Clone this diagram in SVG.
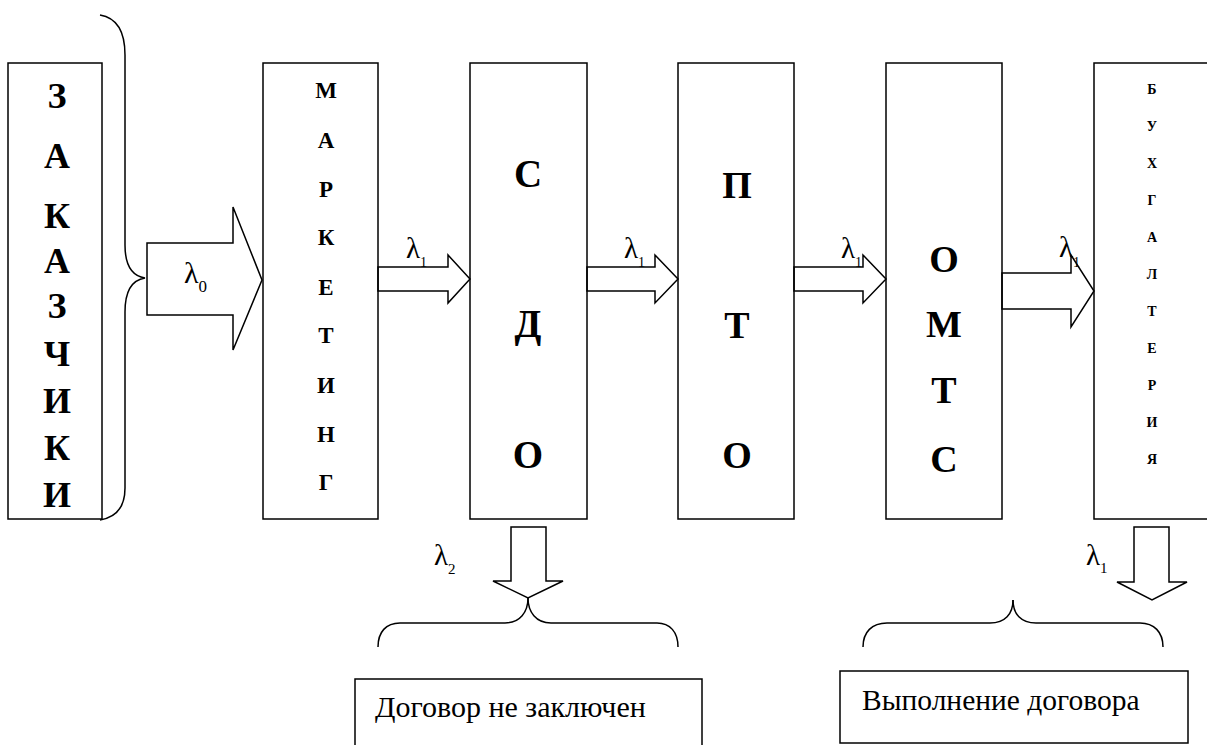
<svg xmlns="http://www.w3.org/2000/svg" width="1207" height="745" viewBox="0 0 1207 745">
<style>
.box{fill:#fff;stroke:#000;stroke-width:1.5}
.ln{fill:none;stroke:#000;stroke-width:1.5;stroke-linejoin:miter}
.t{font-family:"Liberation Serif","Times New Roman",serif;fill:#000}
.b{font-weight:bold;text-anchor:middle}
</style>
<rect width="1207" height="745" fill="#fff"/>
<g id="zakazchiki">
<rect class="box" x="8" y="63" width="94" height="456"/>
<g class="t b" font-size="36">
<text x="57" y="108">З</text><text x="57" y="168">А</text><text x="57" y="228">К</text>
<text x="57" y="273">А</text><text x="57" y="318">З</text><text x="57" y="366">Ч</text>
<text x="57" y="413">И</text><text x="57" y="460">К</text><text x="57" y="507">И</text>
</g>
</g>
<g id="marketing">
<rect class="box" x="263" y="63" width="115" height="456"/>
<g class="t b" font-size="23">
<text x="326" y="98">М</text><text x="326" y="148">А</text><text x="326" y="197">Р</text>
<text x="326" y="245">К</text><text x="326" y="295">Е</text><text x="326" y="343">Т</text>
<text x="326" y="393">И</text><text x="326" y="442">Н</text><text x="326" y="490">Г</text>
</g>
</g>
<g id="sdo">
<rect class="box" x="470" y="63" width="117" height="456"/>
<g class="t b" font-size="39">
<text x="528" y="187">С</text><text x="528" y="337">Д</text><text x="528" y="468">О</text>
</g>
</g>
<g id="pto">
<rect class="box" x="678" y="63" width="116" height="456"/>
<g class="t b" font-size="38">
<text x="737" y="198">П</text><text x="737" y="338">Т</text><text x="737" y="468">О</text>
</g>
</g>
<g id="omts">
<rect class="box" x="886" y="63" width="116" height="456"/>
<g class="t b" font-size="38">
<text x="944" y="272">О</text><text x="944" y="337">М</text><text x="944" y="403">Т</text><text x="944" y="472">С</text>
</g>
</g>
<g id="buhgalteriya">
<rect class="box" x="1094" y="63" width="130" height="456"/>
<g class="t b" font-size="14">
<text x="1152" y="94">Б</text><text x="1152" y="131">У</text><text x="1152" y="168">Х</text>
<text x="1152" y="205">Г</text><text x="1152" y="242">А</text><text x="1152" y="279">Л</text>
<text x="1152" y="316">Т</text><text x="1152" y="353">Е</text><text x="1152" y="390">Р</text>
<text x="1152" y="427">И</text><text x="1152" y="464">Я</text>
</g>
</g>
<g id="result-not-concluded">
<rect class="box" x="355" y="679" width="347" height="80"/>
<text class="t" x="375" y="717" font-size="30">Договор не заключен</text>
</g>
<g id="result-fulfilment">
<rect class="box" x="840" y="671" width="348" height="72"/>
<text class="t" x="862" y="710" font-size="29.5">Выполнение договора</text>
</g>
<g id="connectors">
<path class="ln" d="M100,15 C118,18 125,32 125,55 L125,245 C125,265 132,276 145,278 C132,280 125,292 125,312 L125,488 C125,505 118,517 100,520"/>
<polygon class="ln" points="147,243 233,243 233,207 262,280 233,350 233,315 147,315"/>
<polygon class="ln" points="378,267 448,267 448,255 470,279 448,303 448,291 378,291"/>
<polygon class="ln" points="587,267 655,267 655,255 678,279 655,303 655,291 587,291"/>
<polygon class="ln" points="794,267 863,267 863,255 886,279 863,303 863,291 794,291"/>
<polygon class="ln" points="1002,273 1071,273 1071,255 1094,291 1071,327 1071,309 1002,309"/>
<polygon class="ln" points="511,527 546,527 546,581 563,581 528,598 493,581 511,581"/>
<polygon class="ln" points="1134,527 1169,527 1169,582 1187,582 1152,600 1117,582 1134,582"/>
<path class="ln" d="M528,598 C528,612 520,623 505,623 L400,623 C386,623 378,632 378,647"/>
<path class="ln" d="M528,598 C528,612 536,623 551,623 L657,623 C670,623 678,632 678,647"/>
<path class="ln" d="M1013,600 C1013,614 1005,623 990,623 L887,623 C872,623 863,632 863,647"/>
<path class="ln" d="M1013,600 C1013,614 1021,623 1036,623 L1140,623 C1154,623 1163,632 1163,647"/>
<g class="t">
<text x="184" y="283" font-size="30">λ<tspan font-size="17" dy="9">0</tspan></text>
<text x="406" y="258" font-size="29">λ<tspan font-size="14" dy="9">1</tspan></text>
<text x="624" y="258" font-size="29">λ<tspan font-size="14" dy="9">1</tspan></text>
<text x="841" y="258" font-size="29">λ<tspan font-size="14" dy="9">1</tspan></text>
<text x="1059" y="257" font-size="29">λ<tspan font-size="14" dy="10">1</tspan></text>
<text x="434" y="565" font-size="29">λ<tspan font-size="15" dy="9">2</tspan></text>
<text x="1086" y="565" font-size="29">λ<tspan font-size="15" dy="8">1</tspan></text>
</g>
</g>
</svg>
